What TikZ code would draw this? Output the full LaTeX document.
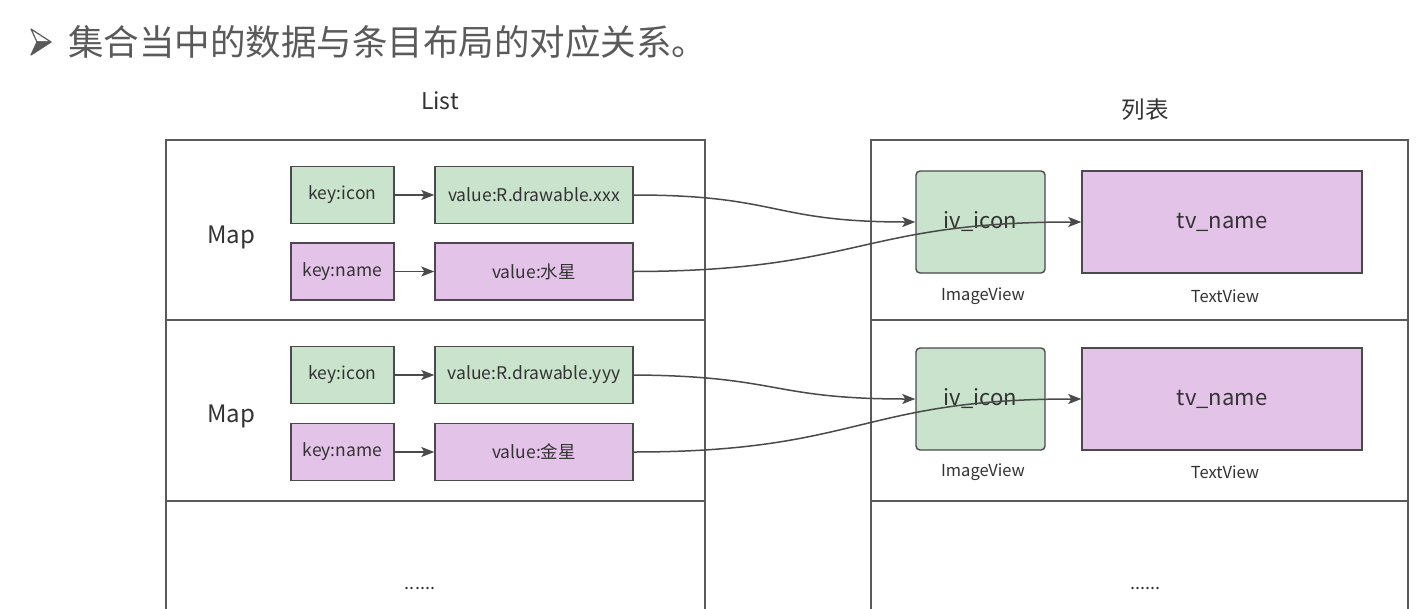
\documentclass[tikz,border=0pt]{standalone}
\usepackage{fontspec}
\setmainfont{Noto Sans CJK SC}
\usetikzlibrary{arrows.meta}
\definecolor{gfill}{HTML}{C9E3CC}
\definecolor{pfill}{HTML}{E3C3E8}
\definecolor{edge}{HTML}{4A4A4A}
\definecolor{txt}{HTML}{333333}
\definecolor{frame}{HTML}{5A5A5A}
\tikzset{
  cell/.style={draw=frame, line width=1.6pt, fill=white, inner sep=0pt},
  gbox/.style={draw=edge, line width=1.4pt, fill=gfill, inner sep=0pt, text=txt, font=\fontsize{17.5}{20}\selectfont},
  pbox/.style={draw=edge, line width=1.4pt, fill=pfill, inner sep=0pt, text=txt, font=\fontsize{17.5}{20}\selectfont},
  keybox/.style={minimum width=103pt, minimum height=57pt},
  valbox/.style={minimum width=198pt, minimum height=57pt},
  ivbox/.style={gbox, rounded corners=4pt, minimum width=129pt, minimum height=102pt, font=\fontsize{22}{26}\selectfont},
  tvbox/.style={pbox, minimum width=280pt, minimum height=102pt, font=\fontsize{22}{26}\selectfont},
  lbl/.style={text=txt, inner sep=0pt},
  capt/.style={lbl, font=\fontsize{16.5}{19}\selectfont},
  conn/.style={draw=edge, line width=1.5pt, -{Stealth[length=13pt,width=10pt,inset=3pt]}},
}
\begin{document}
\begin{tikzpicture}[x=1pt,y=-1pt]
\useasboundingbox (0,0) rectangle (1427,608);
\clip (0,0) rectangle (1427,608);
\fill[white] (0,0) rectangle (1427,608);

% title bullet (drawn arrowhead)
\filldraw[draw=frame, fill=white, line width=1.2pt, line join=round] (31,29) -- (51,42) -- (37,42) -- cycle;
\filldraw[draw=frame, fill=frame, line width=1.2pt, line join=round] (37,42) -- (51,42) -- (31,55) -- cycle;
% title
\node[anchor=west, inner sep=0pt, text=frame, font=\fontsize{35.5}{40}\selectfont] (title) at (68,42)
  {集合当中的数据与条目布局的对应关系。};

% headings
\node[lbl, font=\fontsize{23}{26}\selectfont] (listlbl) at (440,101) {List};
\node[lbl, font=\fontsize{23.5}{26}\selectfont] (tablbl) at (1145,110) {列表};

% left list rows
\node[cell, minimum width=539pt, minimum height=180pt] (L1) at (435.5,230) {};
\node[cell, minimum width=539pt, minimum height=181pt] (L2) at (435.5,410.5) {};
\node[cell, minimum width=539pt, minimum height=130pt] (L3) at (435.5,566) {};
% right list rows
\node[cell, minimum width=537pt, minimum height=180pt] (R1) at (1139.5,230) {};
\node[cell, minimum width=537pt, minimum height=181pt] (R2) at (1139.5,410.5) {};
\node[cell, minimum width=537pt, minimum height=130pt] (R3) at (1139.5,566) {};

% Map labels
\node[lbl, font=\fontsize{24}{27}\selectfont] (map1) at (231,237) {Map};
\node[lbl, font=\fontsize{24}{27}\selectfont] (map2) at (231,416) {Map};

% row 1 left
\node[gbox, keybox] (k1i) at (342.5,195) {key:icon};
\node[gbox, valbox] (v1i) at (534,195) {value:R.drawable.xxx};
\node[pbox, keybox] (k1n) at (342.5,271.5) {key:name};
\node[pbox, valbox] (v1n) at (534,271.5) {value:水星};
% row 2 left
\node[gbox, keybox] (k2i) at (342.5,375) {key:icon};
\node[gbox, valbox] (v2i) at (534,375) {value:R.drawable.yyy};
\node[pbox, keybox] (k2n) at (342.5,452) {key:name};
\node[pbox, valbox] (v2n) at (534,452) {value:金星};

% right items
\node[ivbox] (iv1) at (980.5,222) {iv\_icon};
\node[tvbox] (tv1) at (1222,222) {tv\_name};
\node[capt] (img1) at (983,296) {ImageView};
\node[capt] (txv1) at (1225,296) {TextView};

\node[ivbox] (iv2) at (980.5,399) {iv\_icon};
\node[tvbox] (tv2) at (1222,399) {tv\_name};
\node[capt] (img2) at (983,472) {ImageView};
\node[capt] (txv2) at (1225,472) {TextView};

% ellipses
\node[lbl, font=\fontsize{18}{20}\selectfont] (dots1) at (420,588) {......};
\node[lbl, font=\fontsize{18}{20}\selectfont] (dots2) at (1145,588) {......};

% inner arrows
\draw[conn] (k1i) -- (v1i);
\draw[conn] (k1n) -- (v1n);
\draw[conn] (k2i) -- (v2i);
\draw[conn] (k2n) -- (v2n);

% cross arrows
\draw[conn] (v1i.east) .. controls (780,195) and (770,222) .. (iv1.west);
\draw[conn] (v1n.east) .. controls (860,271) and (860,222) .. (tv1.west);
\draw[conn] (v2i.east) .. controls (780,376) and (770,399) .. (iv2.west);
\draw[conn] (v2n.east) .. controls (860,452) and (860,399) .. (tv2.west);
\end{tikzpicture}
\end{document}
